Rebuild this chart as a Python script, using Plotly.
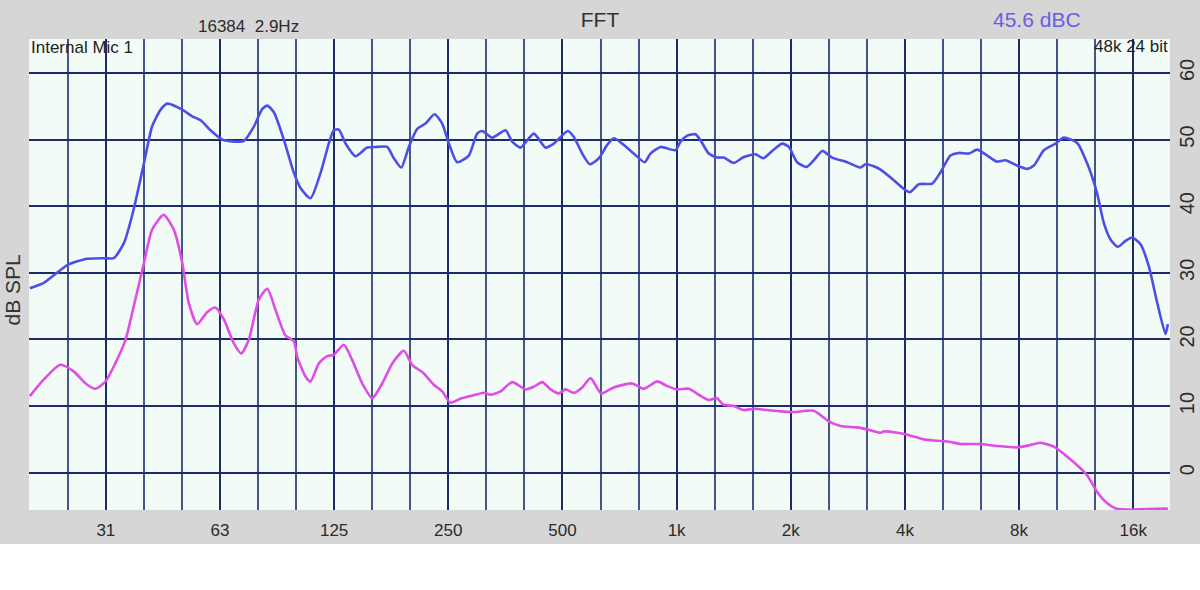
"""FFT spectrum plot (internal mic), rebuilt with plotly"""

import math
import plotly.graph_objects as go

# upper trace (blue), freq in Hz / level in dB SPL
blue_freq = [19.7, 21.45, 24.8, 27.9, 31.25, 32.8, 34.9, 37.0, 39.4, 41.4, 43.6, 45.4,
             49.7, 52.8, 55.6, 59.0, 63.4, 68.0, 72.3, 76.7, 80.8, 83.3, 86.7, 92.1,
             97.9, 102, 108.3, 115.1, 121, 124.7, 128.6, 134, 142.3, 152.8, 162.3,
             172.5, 179.6, 187.9, 196.7, 207, 217.6, 229.9, 240.9, 250.9, 263.9,
             283.2, 297.9, 307.1, 326.5, 353.8, 368.5, 387.7, 420.2, 451.3, 474.4,
             516.6, 535.9, 563.8, 590.6, 623.7, 656, 683, 726, 771, 824, 853, 907,
             993, 1024, 1067, 1122, 1156, 1216, 1280, 1331, 1415, 1504, 1614, 1692,
             1787, 1898, 1976, 2079, 2201, 2324, 2420, 2572, 2816, 3055, 3150, 3310,
             3449, 3740, 3973, 4122, 4353, 4722, 4966, 5275, 5547, 5897, 6203, 6594,
             6975, 7366, 7906, 8403, 8750, 9297, 9981, 10497, 11384, 12100, 12853,
             13381, 13938, 14572, 15263, 15897, 16725, 17581, 18506, 19466, 19738]
blue_db = [27.7, 28.5, 31.2, 32.1, 32.2, 32.2, 34.5, 39.5, 46.5, 52.0, 54.5, 55.4,
           54.5, 53.5, 52.9, 51.4, 50.0, 49.7, 49.8, 51.9, 54.6, 55.1, 54.1, 50.0,
           45.0, 42.7, 41.2, 45.0, 49.4, 51.4, 51.5, 49.4, 47.5, 48.8, 48.9,
           48.9, 47.2, 45.8, 48.9, 51.6, 52.4, 53.8, 52.4, 49.4, 46.6,
           47.6, 50.9, 51.3, 50.3, 51.4, 49.7, 48.8, 50.9, 48.8, 49.4,
           51.3, 50.4, 47.9, 46.3, 47.2, 49.2, 50.2, 49.2, 47.9, 46.6, 47.9, 48.9,
           48.4, 49.7, 50.6, 50.8, 49.9, 47.9, 47.3, 47.3, 46.5, 47.4, 47.8, 47.2,
           48.3, 49.4, 48.9, 46.6, 45.9, 47.2, 48.3, 47.3, 46.6, 45.8, 46.3, 46.0,
           45.5, 43.9, 42.6, 42.1, 43.3, 43.4, 45.1, 47.6, 48.0, 47.9, 48.5, 47.6,
           46.7, 46.9, 46.1, 45.6, 46.1, 48.4, 49.4, 50.3, 49.5, 46.4, 41.9,
           37.5, 35.0, 33.9, 34.8, 35.3, 34.3, 31.0, 25.5, 20.8, 22.3]

# lower trace (magenta)
pink_freq = [19.7, 21.45, 23.7, 25.7, 27.9, 29.4, 31.2, 33.1, 35.2, 37.0, 39.4, 41.4,
             44.4, 47.2, 49.7, 51.7, 54.4, 57.8, 60.8, 64, 68.0, 71.1, 74.5, 79.1,
             83.3, 87.6, 93.0, 97.9, 99.9, 105.1, 108.3, 113.9, 119.8, 124.7, 132.6,
             139.5, 148.3, 157.6, 167.4, 177.9, 190.8, 200.8, 215.5, 228.9, 240.9,
             253.3, 269.2, 286.2, 310.2, 323.1, 343.1, 368.5, 399.4, 420.2, 442.2,
             465, 489, 509.4, 535.9, 563.8, 593.1, 632.8, 683, 763.8, 819.7, 888.8,
             944.7, 1003, 1077, 1144, 1216, 1274, 1331, 1415, 1504, 1598, 1734, 1879,
             2038, 2300, 2519, 2706, 2994, 3182, 3449, 3519, 3816, 4056, 4485, 4866,
             5275, 5606, 6328, 7003, 7906, 8484, 9113, 9875, 10719, 11497, 12100,
             12853, 13663, 14450, 19738]
pink_db = [11.5, 14.0, 16.2, 15.2, 13.2, 12.6, 13.7, 16.4, 19.9, 24.9, 31.5, 36.5,
           38.7, 36.5, 31.5, 25.5, 22.3, 24.1, 24.8, 23.0, 19.4, 17.9, 20.0, 26.0,
           27.6, 24.4, 20.6, 19.7, 17.4, 14.4, 13.7, 16.4, 17.5, 17.7, 19.2,
           16.9, 13.4, 11.2, 13.4, 16.4, 18.3, 16.2, 14.9, 13.2, 12.2,
           10.5, 11.1, 11.5, 12.0, 11.7, 12.2, 13.6, 12.5, 12.9, 13.6,
           12.5, 11.9, 12.5, 12.0, 12.8, 14.2, 11.9, 12.8, 13.4, 12.6, 13.7,
           13.0, 12.5, 12.6, 11.7, 10.9, 11.2, 10.2, 10.0, 9.4, 9.6, 9.4, 9.2,
           9.1, 9.3, 7.7, 7.0, 6.8, 6.5, 6.0, 6.2, 6.0, 5.7, 5.0, 4.8,
           4.6, 4.3, 4.3, 4.0, 3.8, 4.1, 4.5, 3.9, 2.4, 0.9, -0.4,
           -2.9, -4.6, -5.4, -5.4]

# octave ticks + third-octave grid
octave_freq = [31.25, 62.5, 125, 250, 500, 1000, 2000, 4000, 8000, 16000]
octave_labels = ['31', '63', '125', '250', '500', '1k', '2k', '4k', '8k', '16k']
third_freq = [19.69, 24.8, 39.37, 49.6, 78.75, 99.21, 157.5, 198.4, 315, 396.9,
              630, 793.7, 1260, 1587, 2520, 3175, 5040, 6350, 10079, 12699]

GRID = '#1d2b6c'
FONT = 'Liberation Sans, Arial, sans-serif'

fig = go.Figure()
fig.add_trace(go.Scatter(x=blue_freq, y=blue_db, mode='lines',
                         line=dict(color='#4b4fe8', width=2.6, shape='spline', smoothing=0.6)))
fig.add_trace(go.Scatter(x=pink_freq, y=pink_db, mode='lines',
                         line=dict(color='#e04ce8', width=2.6, shape='spline', smoothing=0.6)))

fig.update_xaxes(type='log', range=[math.log10(19.6), math.log10(20000)],
                 tickvals=octave_freq, ticktext=octave_labels, ticks='',
                 showgrid=True, gridcolor=GRID, gridwidth=2, zeroline=False,
                 showline=False, ticklabelstandoff=8, automargin=False,
                 tickfont=dict(size=17, color='#2b2b2b', family=FONT),
                 minor=dict(tickmode='array', tickvals=third_freq, showgrid=True,
                            gridcolor='#45558a', gridwidth=1.6, ticks=''))
fig.update_yaxes(range=[-5.6, 65.1], tick0=0, dtick=10, side='right', tickangle=-90,
                 showgrid=True, gridcolor=GRID, gridwidth=2, zeroline=False,
                 showline=False, ticks='', ticklabelstandoff=3, automargin=False,
                 tickfont=dict(size=20, color='#2b2b2b', family=FONT))

texts = [
    dict(text='16384\u00a0\u00a02.9Hz', x=0.1923, y=1.026, size=17, color='#2b2b2b', xanchor='center', shift=0),
    dict(text='45.6 dBC', x=0.8832, y=1.041, size=21, color='#6a5ceb', xanchor='center', shift=0),
    dict(text='Internal Mic 1', x=0.0, y=0.9815, size=17, color='#222222', xanchor='left', shift=0),
    dict(text='48k 24 bit', x=1.0, y=0.9836, size=17, color='#222222', xanchor='right', shift=0),
]
for t in texts:
    fig.add_annotation(text=t['text'], x=t['x'], y=t['y'], xref='paper', yref='paper',
                       xanchor=t['xanchor'], yanchor='middle', showarrow=False, xshift=t['shift'],
                       font=dict(size=t['size'], color=t['color'], family=FONT))
fig.add_annotation(text='dB SPL', x=-0.0145, y=0.467, xref='paper', yref='paper',
                   textangle=-90, showarrow=False, xanchor='center', yanchor='middle',
                   font=dict(size=21, color='#333333', family=FONT))

# white strip under the grey panel
fig.add_shape(type='rect', xref='paper', yref='paper', x0=-0.05, x1=1.05, y0=-0.0722, y1=-0.3,
              fillcolor='white', line=dict(width=0), layer='below')

fig.update_layout(
    title=dict(text='FFT', x=0.5, xref='container', y=1 - 20 / 590, yref='container',
               xanchor='center', yanchor='middle', font=dict(size=21, color='#333333', family=FONT)),
    showlegend=False,
    width=1200,
    height=590,
    plot_bgcolor='#f3fbf6',
    paper_bgcolor='#d6d6d6',
    margin=dict(l=29, r=30, t=39, b=80),
    font=dict(family=FONT),
)

# drop the default page margin so the figure sits at 0,0
fig.write_html("out.html", config={'displayModeBar': False},
               post_script="document.body.style.margin='0';")
